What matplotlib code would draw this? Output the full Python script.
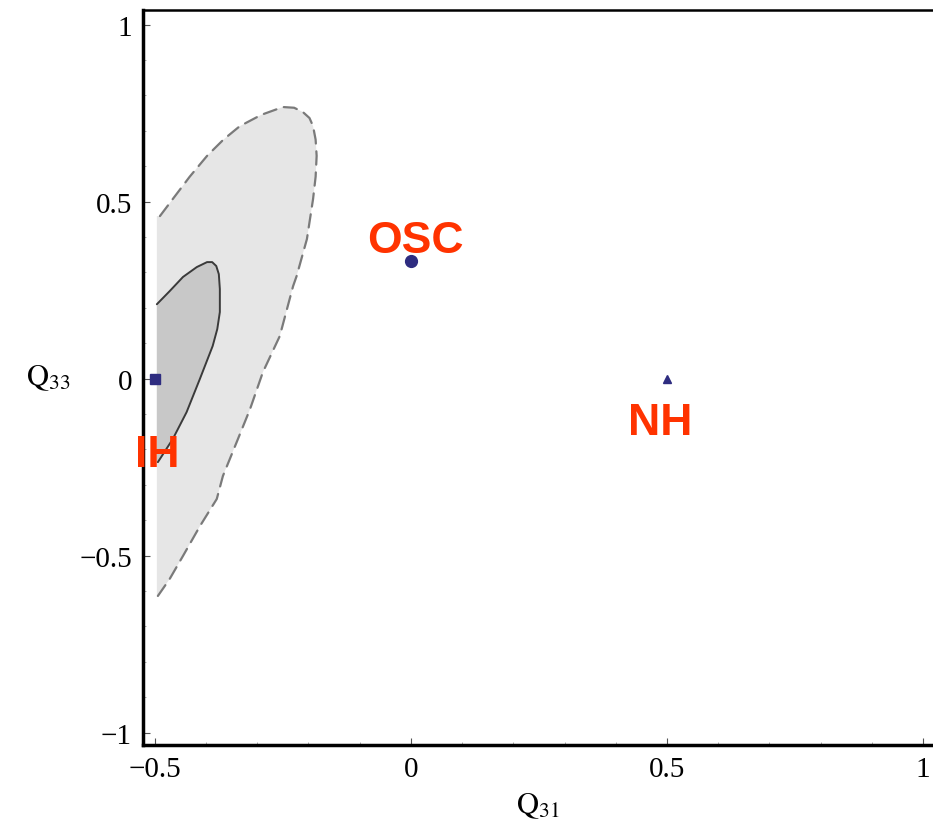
import matplotlib
matplotlib.use("Agg")
import matplotlib.pyplot as plt
from matplotlib.ticker import MultipleLocator

plt.rcParams['font.family'] = ['Liberation Serif', 'DejaVu Serif']
plt.rcParams['mathtext.fontset'] = 'stix'

# 2-sigma (dashed) allowed region boundary
outer_q31 = [-0.490, -0.465, -0.432, -0.398, -0.366, -0.334, -0.292, -0.250, -0.228,
             -0.211, -0.198, -0.191, -0.186, -0.184, -0.186, -0.191,
             -0.203, -0.223, -0.230, -0.256, -0.289, -0.314, -0.340, -0.367, -0.379,
             -0.412, -0.445, -0.471, -0.494]
outer_q33 = [0.459, 0.507, 0.570, 0.629, 0.675, 0.713, 0.745, 0.767, 0.765,
             0.753, 0.736, 0.713, 0.675, 0.629, 0.570, 0.507,
             0.394, 0.290, 0.261, 0.120, 0.018, -0.086, -0.179, -0.275, -0.340,
             -0.417, -0.501, -0.566, -0.614]
# 1-sigma (solid) allowed region boundary
inner_q31 = [-0.496, -0.471, -0.445, -0.418, -0.398, -0.388, -0.380, -0.375, -0.373, -0.373,
             -0.378, -0.387, -0.412, -0.438, -0.465, -0.494]
inner_q33 = [0.210, 0.247, 0.287, 0.315, 0.329, 0.329, 0.318, 0.295, 0.253, 0.188,
             0.140, 0.092, -0.001, -0.095, -0.171, -0.236]
edge_q31 = -0.496

# Benchmark points
names = ["IH", "OSC", "NH"]
pt_q31 = [-0.5, 0.0, 0.5]
pt_q33 = [0.0, 1/3, 0.0]
markers = ["s", "o", "^"]
msizes = [7, 8.5, 5.5]
label_q31 = [-0.496, 0.008, 0.486]
label_q33 = [-0.247, 0.357, -0.157]

xticks = [-0.5, 0, 0.5, 1]
xticklabels = ["\u22120.5", "0", "0.5", "1"]
yticks = [-1, -0.5, 0, 0.5, 1]
yticklabels = ["\u22121", "\u22120.5", "0", "0.5", "1"]

fig = plt.figure(figsize=(9.33, 8.29), dpi=100)
ax = fig.add_axes([0.1533, 0.1001, 0.8467, 0.8866])
ax.set_xlim(-0.523, 1.0195)
ax.set_ylim(-1.035, 1.041)

# outer region
ox = [edge_q31] + outer_q31 + [edge_q31]
oy = [outer_q33[0]] + outer_q33 + [outer_q33[-1]]
ax.fill(ox, oy, color="#e6e6e6", lw=0, zorder=1)
ax.plot(outer_q31, outer_q33, color="#7a7a7a", lw=1.6, ls=(0, (6, 3.5)), zorder=2,
        dash_joinstyle="round", dash_capstyle="round")

ix = [edge_q31] + inner_q31 + [edge_q31]
iy = [inner_q33[0]] + inner_q33 + [inner_q33[-1]]
ax.fill(ix, iy, color="#c8c8c8", lw=0, zorder=3)
ax.plot(inner_q31, inner_q33, color="#3a3a3a", lw=1.4, zorder=4,
        solid_joinstyle="round", solid_capstyle="round")

for n, x, y, m, s, lx, ly in zip(names, pt_q31, pt_q33, markers, msizes, label_q31, label_q33):
    ax.plot([x], [y], marker=m, ms=s, color="#2e2c80", ls="none", zorder=5, clip_on=False)
    ax.text(lx, ly, n, color="#ff3300", fontsize=32, fontweight="bold",
            family=["Liberation Sans", "DejaVu Sans"], ha="center", va="baseline", zorder=6)

ax.spines['right'].set_visible(False)
ax.spines['left'].set_linewidth(2.5)
ax.spines['bottom'].set_linewidth(2.5)
ax.spines['top'].set_linewidth(1.8)

ax.set_xticks(xticks)
ax.set_xticklabels(xticklabels)
ax.set_yticks(yticks)
ax.set_yticklabels(yticklabels)
ax.xaxis.set_minor_locator(MultipleLocator(0.1))
ax.yaxis.set_minor_locator(MultipleLocator(0.1))
ax.tick_params(which='major', direction='in', length=5, width=0.8, labelsize=21, pad=8,
               top=False, right=False, colors="#555555", labelcolor="black")
ax.tick_params(which='minor', direction='in', length=2.5, width=0.5, top=False, right=False,
               colors="#888888")

ax.set_xlabel(r"$\mathrm{Q_{31}}$", fontsize=22, labelpad=6)
ax.set_ylabel(r"$\mathrm{Q_{33}}$", fontsize=22, rotation=0, labelpad=22, va="center")

fig.savefig("out.png", dpi=100)
